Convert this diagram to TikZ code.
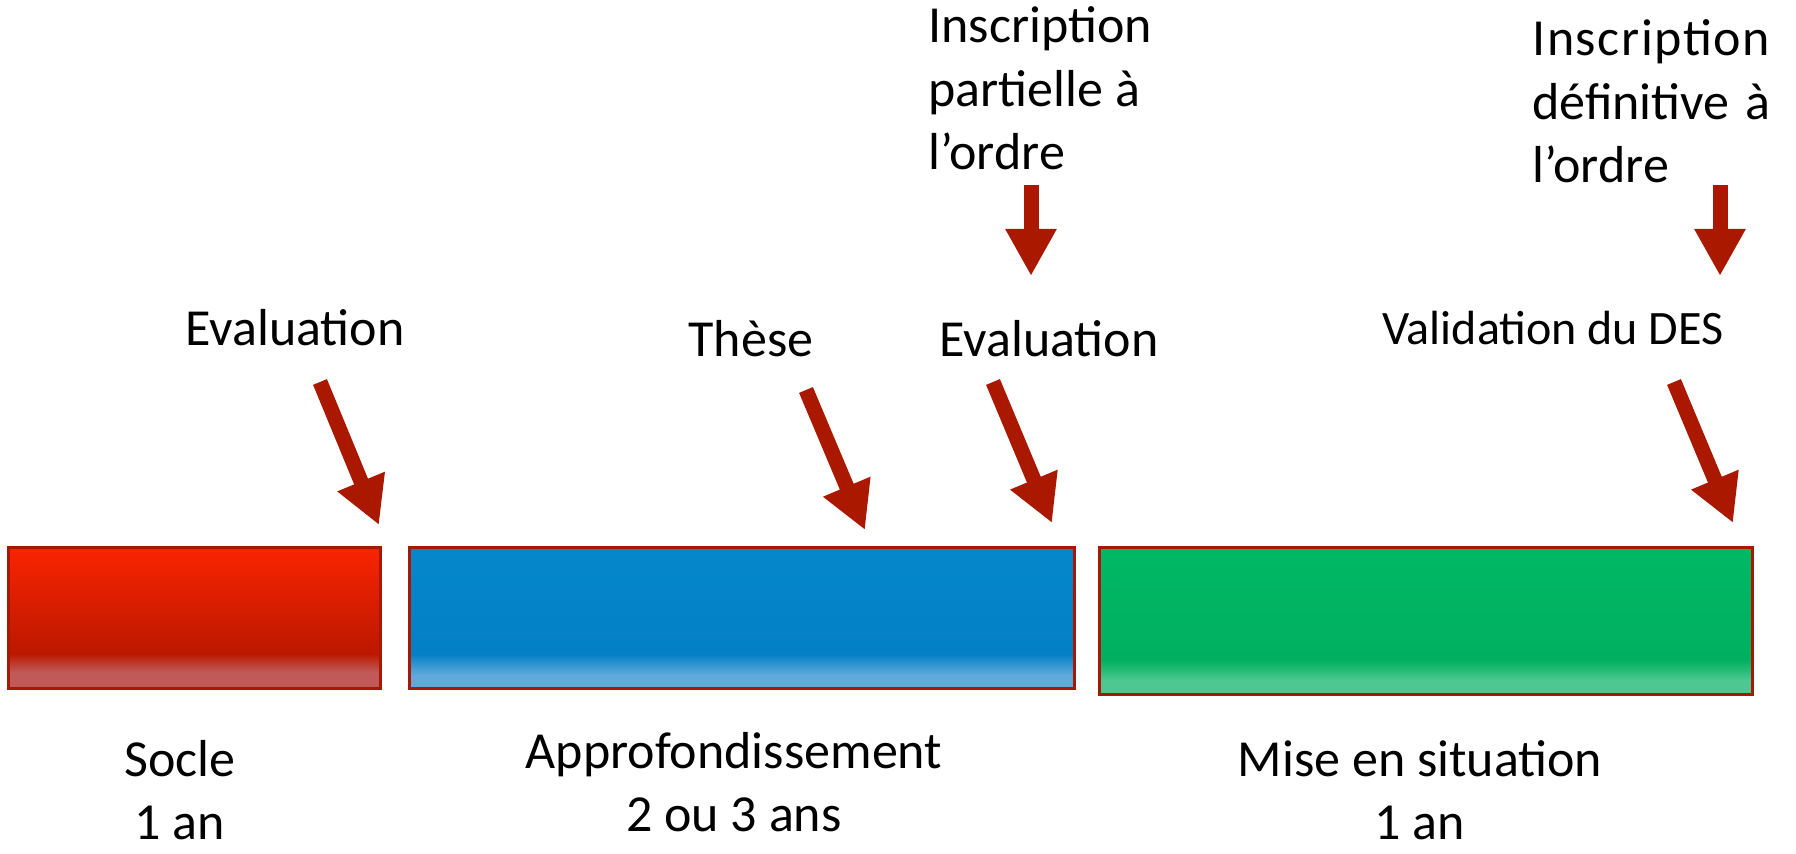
\documentclass[tikz,border=0pt]{standalone}
\usepackage{fontspec}
\setmainfont{Carlito}
\usetikzlibrary{arrows.meta}
\definecolor{arrred}{RGB}{170,24,0}
\definecolor{boxborder}{RGB}{168,24,0}
\definecolor{rTop}{RGB}{249,36,0}
\definecolor{rDark}{RGB}{188,24,0}
\definecolor{rBand}{RGB}{192,90,88}
\definecolor{bTop}{RGB}{6,135,203}
\definecolor{bDark}{RGB}{3,128,198}
\definecolor{bBand}{RGB}{95,169,219}
\definecolor{gTop}{RGB}{0,184,100}
\definecolor{gDark}{RGB}{0,176,96}
\definecolor{gBand}{RGB}{76,200,144}
\pgfdeclareverticalshading{redsh}{100bp}{color(0bp)=(rBand); color(31bp)=(rBand); color(37.5bp)=(rDark); color(75bp)=(rTop); color(100bp)=(rTop)}
\pgfdeclareverticalshading{bluesh}{100bp}{color(0bp)=(bBand); color(30bp)=(bBand); color(37.5bp)=(bDark); color(75bp)=(bTop); color(100bp)=(bTop)}
\pgfdeclareverticalshading{greensh}{100bp}{color(0bp)=(gBand); color(30bp)=(gBand); color(37bp)=(gDark); color(75bp)=(gTop); color(100bp)=(gTop)}
\begin{document}
\begin{tikzpicture}[x=0.5pt,y=-0.5pt,
  lbl/.style={inner sep=0pt, font=\fontsize{26pt}{31.75pt}\selectfont},
  smalllbl/.style={inner sep=0pt, font=\fontsize{24pt}{29pt}\selectfont},
  phase/.style={draw=boxborder, line width=1.5pt},
  bigarrow/.style={draw=arrred, line width=7.5pt, -{Triangle[length=23.5pt,width=24pt]}, arrred}]
\useasboundingbox (0,0) rectangle (1796,854);
% phase boxes
\path[phase, shading=redsh] (8,548) rectangle (380,689);
\path[phase, shading=bluesh] (409,548) rectangle (1074,689);
\path[phase, shading=greensh] (1099,548) rectangle (1752,695);
% labels above
\node[lbl, anchor=base] (ev1) at (295,346) {Evaluation};
\node[lbl, anchor=base] (these) at (751,357) {Thèse};
\node[lbl, anchor=base] (ev2) at (1049,357) {Evaluation};
\node[smalllbl, anchor=base] (val) at (1553,345) {Validation du DES};
\node[lbl, anchor=base west, align=left] (insc1) at (928,170) {Inscription\\partielle à\\l’ordre};
\node[lbl, anchor=base west, align=left] (insc2) at (1532,183) {{\addfontfeature{LetterSpace=3}Inscription}\\définitive\hfill à\\l’ordre};
% labels below
\node[lbl, anchor=base, align=center] (socle) at (180,840) {Socle\\1 an};
\node[lbl, anchor=base, align=center] (appro) at (734,832) {Approfondissement\\2 ou 3 ans};
\node[lbl, anchor=base, align=center] (mise) at (1420,840) {Mise en situation\\1 an};
% arrow end points
\coordinate (a1s) at (320,382); \coordinate (a1e) at (379,525);
\coordinate (a2s) at (806,390); \coordinate (a2e) at (865,530);
\coordinate (a3s) at (993,382); \coordinate (a3e) at (1052,523);
\coordinate (a4s) at (1674,382); \coordinate (a4e) at (1733,523);
\coordinate (v1s) at (1031,185); \coordinate (v1e) at (1031,276);
\coordinate (v2s) at (1720,185); \coordinate (v2e) at (1720,276);
\draw[bigarrow] (a1s) -- (a1e);
\draw[bigarrow] (a2s) -- (a2e);
\draw[bigarrow] (a3s) -- (a3e);
\draw[bigarrow] (a4s) -- (a4e);
\draw[bigarrow] (v1s) -- (v1e);
\draw[bigarrow] (v2s) -- (v2e);
\end{tikzpicture}
\end{document}
